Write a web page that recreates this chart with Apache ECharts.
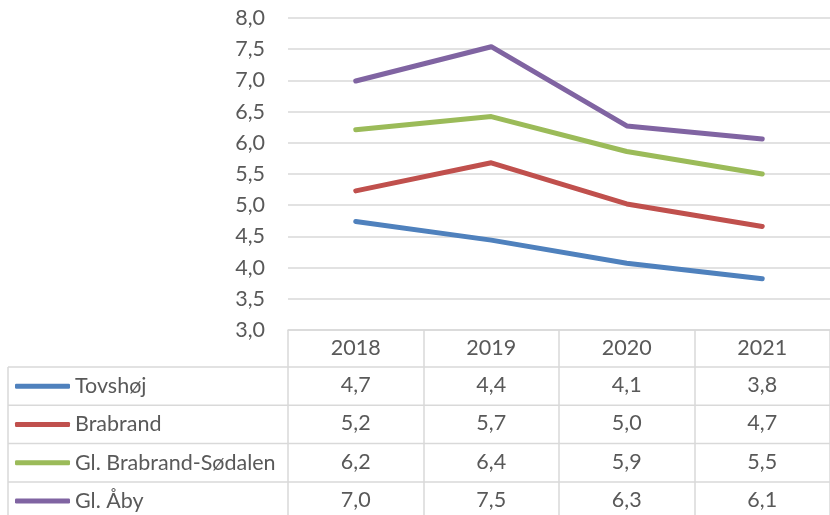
<!DOCTYPE html>
<html>
<head>
<meta charset="utf-8">
<script src="https://cdn.jsdelivr.net/npm/echarts@6/dist/echarts.min.js"></script>
<style>
  html, body { margin: 0; padding: 0; background: #fff; }
  #main { width: 830px; height: 515px; }
</style>
</head>
<body>
<div id="main"></div>
<script>
var years = ['2018', '2019', '2020', '2021']
var names = ['Tovshøj', 'Brabrand', 'Gl. Brabrand-Sødalen', 'Gl. Åby']
var tovshoj = [4.74, 4.44, 4.07, 3.82]
var brabrand = [5.23, 5.68, 5.02, 4.66]
var sodalen = [6.21, 6.42, 5.86, 5.5]
var aaby = [6.99, 7.54, 6.27, 6.06]
var colors = ['#4f81bd', '#c0504d', '#9bbb59', '#8064a2']

var allData = [tovshoj, brabrand, sodalen, aaby]
var font = 'Lato'
var fontSize = 21.5
var textColor = '#595959'
var gridColor = '#d9d9d9'
var rowTop = 367
var rowH = 38.3
var fmt = function (v) { return (Math.round(v * 10) / 10).toFixed(1).replace('.', ',') }

var myChart = echarts.init(document.getElementById('main'))

// value rows of the table, one hidden x axis each
var rowAxes = allData.map(function (d, i) {
    return {
        type: 'category',
        data: years,
        position: 'bottom',
        axisLine: { show: false },
        axisTick: { show: false },
        axisLabel: {
            margin: 55 + i * rowH,
            verticalAlign: 'middle',
            fontFamily: font,
            fontSize: fontSize,
            color: textColor,
            formatter: function (v, idx) { return fmt(d[idx]) }
        }
    }
})

// one legend per table row
var legends = names.map(function (n, i) {
    return {
        orient: 'vertical',
        left: 15,
        top: rowTop + i * rowH,
        padding: 0,
        itemWidth: 55,
        itemHeight: 5,
        itemGap: 4,
        icon: 'roundRect',
        selectedMode: false,
        data: [n],
        textStyle: {
            fontFamily: font,
            fontSize: fontSize,
            color: textColor,
            lineHeight: rowH
        }
    }
})

var rowLines = [0, 1, 2, 3, 4].map(function (k) {
    var y = rowTop + k * rowH
    return {
        type: 'line',
        shape: { x1: 8, y1: y, x2: 840, y2: y },
        style: { stroke: gridColor, lineWidth: 1.5 }
    }
})
rowLines.push({
    type: 'line',
    shape: { x1: 8, y1: rowTop, x2: 8, y2: 520 },
    style: { stroke: gridColor, lineWidth: 1.5 }
})

var option = {
    animation: false,
    color: colors,
    grid: { left: 288, right: -8, top: 18, bottom: 185 },
    legend: legends,
    xAxis: [{
        type: 'category',
        data: years,
        axisLine: { lineStyle: { color: gridColor, width: 1.5 } },
        axisTick: { show: true, length: 190, lineStyle: { color: gridColor, width: 1.5 } },
        axisLabel: {
            margin: 18,
            verticalAlign: 'middle',
            fontFamily: font,
            fontSize: fontSize,
            color: textColor
        }
    }].concat(rowAxes),
    yAxis: {
        type: 'value',
        min: 3,
        max: 8,
        interval: 0.5,
        axisLine: { show: false },
        axisTick: { show: false },
        splitLine: { lineStyle: { color: gridColor, width: 1.5 } },
        axisLabel: {
            margin: 23,
            fontFamily: font,
            fontSize: fontSize,
            color: textColor,
            formatter: fmt
        }
    },
    graphic: rowLines,
    series: allData.map(function (d, i) {
        return {
            name: names[i],
            type: 'line',
            data: d,
            symbol: 'none',
            lineStyle: { width: 5, cap: 'round', join: 'round' }
        }
    })
}
myChart.setOption(option)
</script>
</body>
</html>
